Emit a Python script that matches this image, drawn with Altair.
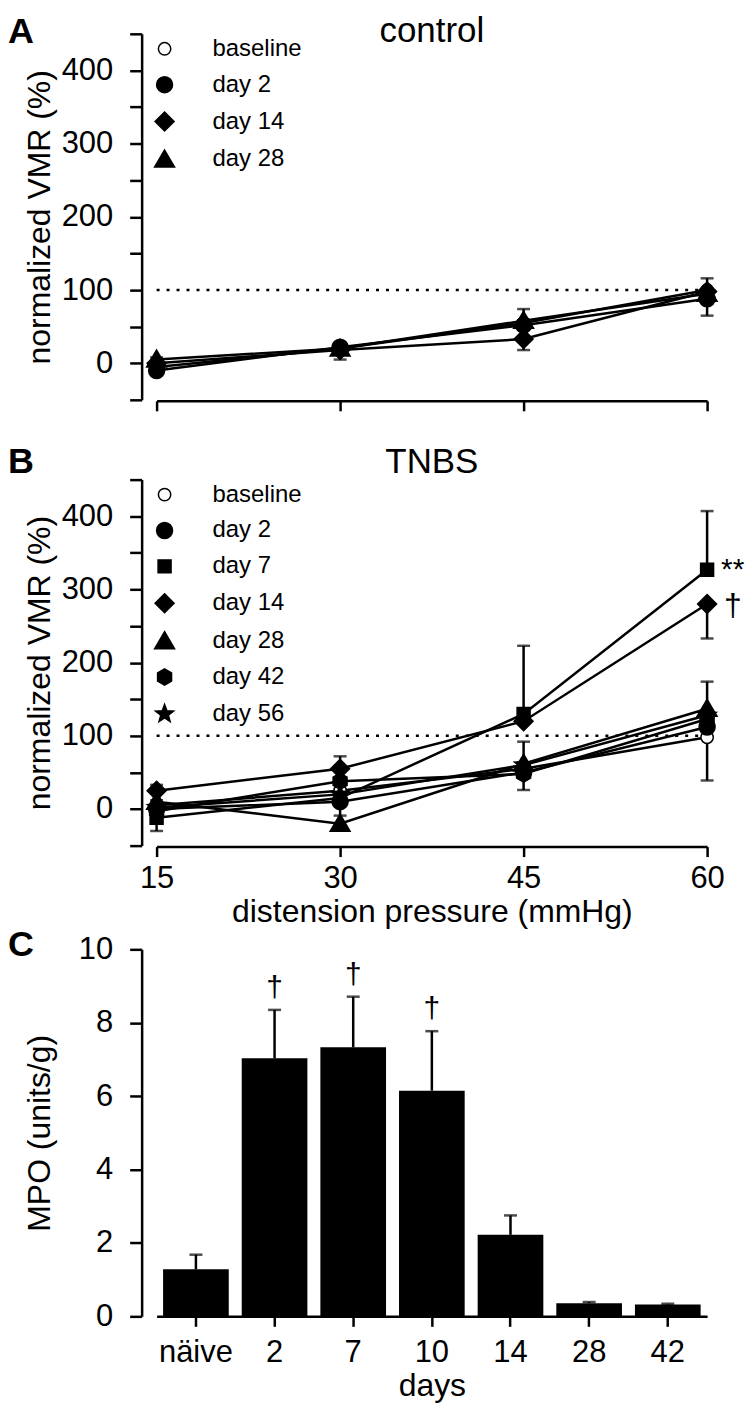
import math
import altair as alt
import pandas as pd

FONT = "Liberation Sans"

# ---------------- data ----------------
pressures = [15, 30, 45, 60]

# panel A: control
ctrl_groups = ["baseline", "day 2", "day 14", "day 28"]
ctrl_baseline = [-5, 20, 55, 100]
ctrl_day2 = [-10, 22, 52, 88]
ctrl_day14 = [0, 18, 33, 98]
ctrl_day28 = [5, 20, 58, 95]
# signed SEM: positive drawn upward, negative drawn downward
ctrl_err_baseline = [2, 2, 3, 2]
ctrl_err_day2 = [-3, -3, -3, -23]
ctrl_err_day14 = [3, -13, -15, 18]
ctrl_err_day28 = [3, 3, 16, 3]

# panel B: TNBS
tnbs_groups = ["baseline", "day 2", "day 7", "day 14", "day 28", "day 42", "day 56"]
tnbs_baseline = [5, 25, 55, 98]
tnbs_day2 = [0, 10, 50, 112]
tnbs_day7 = [-12, 15, 130, 327]
tnbs_day14 = [25, 55, 120, 280]
tnbs_day28 = [10, -20, 62, 137]
tnbs_day42 = [-3, 38, 48, 123]
tnbs_day56 = [2, 20, 60, 128]
tnbs_err_baseline = [2, 2, 2, -59]
tnbs_err_day2 = [-2, -19, -2, 2]
tnbs_err_day7 = [-18, 2, 93, 80]
tnbs_err_day14 = [8, 17, -2, -47]
tnbs_err_day28 = [2, -2, 2, 37]
tnbs_err_day42 = [-2, 2, -22, 2]
tnbs_err_day56 = [2, -2, 32, 2]
tnbs_sig_groups = ["day 7", "day 14"]
tnbs_sig_labels = ["**", "\u2020"]

# panel C: MPO
mpo_days = ["n\u00e4ive", "2", "7", "10", "14", "28", "42"]
mpo_mean = [1.28, 7.03, 7.33, 6.15, 2.22, 0.36, 0.32]
mpo_sem = [0.40, 1.32, 1.38, 1.62, 0.53, 0.03, 0.02]
mpo_sig = ["", "\u2020", "\u2020", "\u2020", "", "", ""]


# ---------------- marker shapes ----------------
def circle_path(r):
    return f"M{r},0A{r},{r} 0 1,1 {-r},0A{r},{r} 0 1,1 {r},0Z"


def star_path(R, r):
    pts = []
    for i in range(10):
        a = math.radians(-90 + 36 * i)
        rad = R if i % 2 == 0 else r
        pts.append(f"{rad * math.cos(a):.3f},{rad * math.sin(a):.3f}")
    return "M" + "L".join(pts) + "Z"


SHAPES = {
    "baseline": circle_path(0.62),
    "day 2": circle_path(0.8),
    "day 7": "M-0.65,-0.65L0.65,-0.65L0.65,0.65L-0.65,0.65Z",
    "day 14": "M0,-0.95L0.95,0L0,0.95L-0.95,0Z",
    "day 28": "M0,-0.95L1,0.75L-1,0.75Z",
    "day 42": "M0,-0.82L0.7,-0.41L0.7,0.41L0,0.82L-0.7,0.41L-0.7,-0.41Z",
    "day 56": star_path(0.95, 0.4),
}
FILLS = {g: ("white" if g == "baseline" else "black") for g in tnbs_groups}


def long_table(groups, means, errs):
    rows = []
    for g, m, e in zip(groups, means, errs):
        for p, v, d in zip(pressures, m, e):
            rows.append({"group": g, "p": p, "v": v, "end": v + d})
    return pd.DataFrame(rows)


XS = alt.Scale(domain=[15, 60], nice=False, zero=False)
YS = alt.Scale(domain=[-50, 450], nice=False, zero=False)
W = 552
H = 367


def y_axis():
    return alt.Axis(
        values=list(range(-50, 451, 50)),
        labelExpr="datum.value >= 0 && datum.value % 100 == 0 ? datum.label : ''",
        offset=15, tickSize=12, labelPadding=17, labelOverlap=False,
        title="normalized VMR (%)", titleX=-92, titleY=H / 2,
        titleAngle=270, titleBaseline="alphabetic", titleAlign="center",
    )


def x_axis(labels):
    if labels:
        return alt.Axis(values=pressures, tickSize=10, labelPadding=7, offset=1,
                        labelFlush=False, labelOverlap=False,
                        title="distension pressure (mmHg)", titlePadding=3)
    return alt.Axis(values=pressures, tickSize=10, labels=False, offset=1, title=None)


def text_layer(txt, x, y, size, bold=False, align="center"):
    return alt.Chart(pd.DataFrame({"t": [txt]})).mark_text(
        font=FONT, fontSize=size, fontWeight="bold" if bold else "normal",
        color="black", align=align, baseline="alphabetic",
    ).encode(text="t:N", x=alt.value(x), y=alt.value(y))


def vmr_panel(groups, means, errs, title, letter, labels, title_y, letter_y, notes=()):
    df = long_table(groups, means, errs)
    X = alt.X("p:Q", scale=XS, axis=x_axis(labels))
    Y = alt.Y("v:Q", scale=YS, axis=y_axis())
    ref = alt.Chart(pd.DataFrame({"p": [15], "p2": [60], "v": [100]})).mark_rule(
        color="black", strokeWidth=2.5, strokeDash=[3, 7]
    ).encode(x=X, x2="p2:Q", y=Y)
    lines = alt.Chart(df).mark_line(color="black", strokeWidth=2.5).encode(
        x=X, y=Y, detail="group:N")
    whisk = alt.Chart(df).mark_rule(color="black", strokeWidth=2.5).encode(
        x=X, y=Y, y2="end:Q")
    caps = alt.Chart(df).mark_tick(color="black", orient="horizontal", size=13,
                                   thickness=2.5).encode(
        x=X, y=alt.Y("end:Q", scale=YS, axis=y_axis()))
    leg = alt.Legend(title=None, orient="none", legendX=-4, legendY=3, padding=0,
                     labelFontSize=24, labelFont=FONT, labelColor="black",
                     labelOffset=36, rowPadding=12, symbolSize=400,
                     symbolStrokeColor="black", symbolStrokeWidth=1.5,
                     symbolOpacity=1)
    pts = alt.Chart(df).mark_point(
        filled=False, size=400, strokeWidth=1.5, opacity=1
    ).encode(
        x=X, y=Y,
        shape=alt.Shape("group:N", scale=alt.Scale(domain=groups, range=[SHAPES[g] for g in groups]), legend=leg),
        fill=alt.Fill("group:N", scale=alt.Scale(domain=groups, range=[FILLS[g] for g in groups]), legend=leg),
        stroke=alt.Stroke("group:N", scale=alt.Scale(domain=groups, range=["black"] * len(groups)), legend=leg),
    )
    layers = [ref, lines, whisk, caps, pts,
              text_layer(title, W / 2, title_y, 35),
              text_layer(letter, -149, letter_y, 36, bold=True, align="left")]
    for grp, lab, dx, dy, fs in notes:
        nd = df[(df["group"] == grp) & (df["p"] == 60)].assign(lab=lab)
        layers.append(alt.Chart(nd).mark_text(
            font=FONT, fontSize=fs, color="black", align="left", baseline="alphabetic",
            dx=dx, dy=dy).encode(x=X, y=Y, text="lab:N"))
    return alt.layer(*layers).properties(width=W, height=H)


panel_a = vmr_panel(
    ctrl_groups,
    [ctrl_baseline, ctrl_day2, ctrl_day14, ctrl_day28],
    [ctrl_err_baseline, ctrl_err_day2, ctrl_err_day14, ctrl_err_day28],
    "control", "A", False, 8, 9)

panel_b = vmr_panel(
    tnbs_groups,
    [tnbs_baseline, tnbs_day2, tnbs_day7, tnbs_day14, tnbs_day28, tnbs_day42, tnbs_day56],
    [tnbs_err_baseline, tnbs_err_day2, tnbs_err_day7, tnbs_err_day14, tnbs_err_day28,
     tnbs_err_day42, tnbs_err_day56],
    "TNBS", "B", True, -7, -7,
    notes=[(tnbs_sig_groups[0], tnbs_sig_labels[0], 14, 9, 30),
           (tnbs_sig_groups[1], tnbs_sig_labels[1], 17, 12, 32)])

# ---------------- panel C ----------------
HC = 392
dfc = pd.DataFrame({
    "day": mpo_days,
    "m": mpo_mean,
    "e": [m + s for m, s in zip(mpo_mean, mpo_sem)],
    "sig": mpo_sig,
})
XC = alt.X("day:N", sort=mpo_days,
           scale=alt.Scale(domain=mpo_days, paddingInner=0.165, paddingOuter=0.0825),
           axis=alt.Axis(labelAngle=0, tickSize=10, labelPadding=11, title="days",
                         titlePadding=3))
YCS = alt.Scale(domain=[0, 10], nice=False, zero=True, range=[HC, 24])


def yc_axis():
    return alt.Axis(values=[0, 2, 4, 6, 8, 10], offset=15, tickSize=12, labelPadding=17,
                    labelOverlap=False, title="MPO (units/g)", titleX=-92,
                    titleY=(HC + 24) / 2, titleAngle=270, titleBaseline="alphabetic",
                    titleAlign="center")


bars = alt.Chart(dfc).mark_bar(color="black").encode(
    x=XC, y=alt.Y("m:Q", scale=YCS, axis=yc_axis()))
c_whisk = alt.Chart(dfc).mark_rule(color="black", strokeWidth=2.5).encode(
    x=XC, y=alt.Y("m:Q", scale=YCS, axis=yc_axis()), y2="e:Q")
c_caps = alt.Chart(dfc).mark_tick(color="black", orient="horizontal", size=13,
                                  thickness=2.5).encode(
    x=XC, y=alt.Y("e:Q", scale=YCS, axis=yc_axis()))
c_sig = alt.Chart(dfc).mark_text(font=FONT, fontSize=30, color="black", align="center",
                                 baseline="alphabetic", dy=-13).encode(
    x=XC, y=alt.Y("e:Q", scale=YCS, axis=yc_axis()), text="sig:N")

panel_c = alt.layer(
    bars, c_whisk, c_caps, c_sig,
    text_layer("C", -149, 31, 36, bold=True, align="left"),
).properties(width=W, height=HC)

chart = alt.vconcat(panel_a, panel_b, panel_c, spacing=80, bounds="flush").resolve_scale(
    shape="independent", fill="independent", stroke="independent"
).properties(
    padding={"left": 0, "top": 4, "right": 0, "bottom": 0}
).configure(font=FONT, background="white").configure_view(stroke=None).configure_axis(
    domainColor="black", tickColor="black", labelColor="black", titleColor="black",
    grid=False, domainWidth=2.5, tickWidth=2.5, labelFont=FONT, titleFont=FONT,
    labelFontSize=31, titleFontSize=32, titleFontWeight="normal",
).configure_legend(labelFont=FONT)

chart.save("out.html", embed_options={"renderer": "svg", "actions": False})
